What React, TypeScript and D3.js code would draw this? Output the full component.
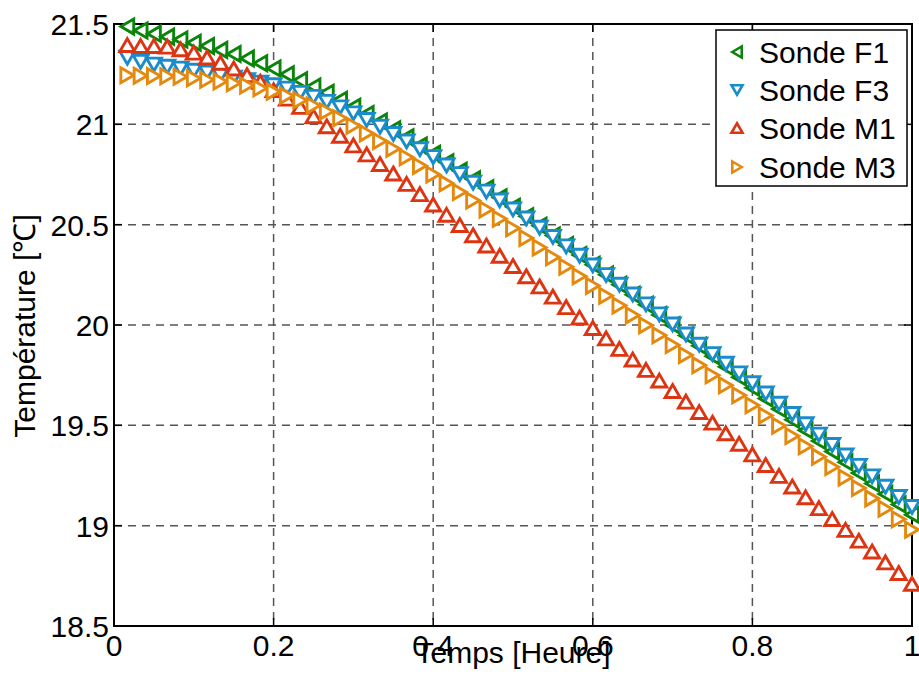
import React from "react";
import * as d3 from "d3";

const timeValues: number[] = Array.from({ length: 60 }, (_, i) => (i + 1) / 60);

const sondeF1: number[] = [
  21.487, 21.468, 21.452, 21.437, 21.423, 21.407, 21.39, 21.371, 21.351, 21.328,
  21.304, 21.278, 21.25, 21.22, 21.189, 21.157, 21.123, 21.088, 21.052, 21.014,
  20.975, 20.935, 20.894, 20.853, 20.811, 20.769, 20.726, 20.682, 20.636, 20.589,
  20.542, 20.494, 20.446, 20.398, 20.349, 20.3, 20.251, 20.201, 20.151, 20.101,
  20.05, 19.999, 19.948, 19.896, 19.844, 19.792, 19.74, 19.687, 19.634, 19.581,
  19.528, 19.475, 19.422, 19.369, 19.316, 19.263, 19.21, 19.158, 19.106, 19.055,
];

const sondeF3: number[] = [
  21.332, 21.312, 21.298, 21.287, 21.278, 21.267, 21.258, 21.245, 21.233, 21.22,
  21.208, 21.195, 21.178, 21.157, 21.137, 21.112, 21.085, 21.055, 21.022, 20.988,
  20.952, 20.915, 20.876, 20.837, 20.795, 20.752, 20.709, 20.665, 20.621, 20.576,
  20.531, 20.485, 20.439, 20.392, 20.345, 20.297, 20.249, 20.201, 20.152, 20.103,
  20.053, 20.003, 19.953, 19.902, 19.855, 19.807, 19.759, 19.71, 19.659, 19.608,
  19.557, 19.506, 19.454, 19.402, 19.35, 19.298, 19.246, 19.194, 19.143, 19.093,
];

const sondeM1: number[] = [
  21.395, 21.39, 21.39, 21.387, 21.374, 21.357, 21.333, 21.307, 21.278, 21.245,
  21.212, 21.17, 21.128, 21.087, 21.04, 20.99, 20.943, 20.895, 20.85, 20.802,
  20.755, 20.703, 20.652, 20.6, 20.549, 20.498, 20.447, 20.396, 20.345, 20.294,
  20.243, 20.192, 20.141, 20.089, 20.037, 19.985, 19.933, 19.881, 19.828, 19.776,
  19.723, 19.671, 19.618, 19.566, 19.513, 19.46, 19.408, 19.355, 19.302, 19.248,
  19.195, 19.141, 19.087, 19.033, 18.979, 18.925, 18.871, 18.817, 18.764, 18.71,
];

const sondeM3: number[] = [
  21.245, 21.242, 21.241, 21.24, 21.237, 21.23, 21.222, 21.214, 21.205, 21.194,
  21.18, 21.163, 21.143, 21.12, 21.094, 21.064, 21.03, 20.993, 20.955, 20.917,
  20.878, 20.836, 20.793, 20.75, 20.707, 20.663, 20.62, 20.576, 20.529, 20.482,
  20.434, 20.386, 20.338, 20.29, 20.243, 20.195, 20.146, 20.097, 20.048, 19.999,
  19.949, 19.9, 19.85, 19.8, 19.75, 19.7, 19.65, 19.6, 19.549, 19.498,
  19.447, 19.396, 19.344, 19.292, 19.24, 19.188, 19.136, 19.084, 19.032, 18.98,
];

const seriesNames: string[] = ["Sonde F1", "Sonde F3", "Sonde M1", "Sonde M3"];
const seriesValues: number[][] = [sondeF1, sondeF3, sondeM1, sondeM3];
const seriesColors: string[] = ["#0a840a", "#1a8ccc", "#dd3511", "#e5890e"];
const seriesMarkers: string[] = ["left", "down", "up", "right"];

const xTicks: number[] = [0, 0.2, 0.4, 0.6, 0.8, 1];
const yTicks: number[] = [18.5, 19, 19.5, 20, 20.5, 21, 21.5];

const W = 919;
const H = 695;
const M = { left: 114, right: 912, top: 24, bottom: 626 };
const FONT = "'Liberation Sans', Arial, Helvetica, sans-serif";

function trianglePath(dir: string, s: number): string {
  const a = s; // half width
  const b = s * 0.86; // half height
  let pts: [number, number][];
  if (dir === "up") pts = [[0, -b], [a, b], [-a, b]];
  else if (dir === "down") pts = [[0, b], [a, -b], [-a, -b]];
  else if (dir === "left") pts = [[-b, 0], [b, -a], [b, a]];
  else pts = [[b, 0], [-b, -a], [-b, a]];
  return "M" + pts.map((p) => p.join(",")).join("L") + "Z";
}

export default function App() {
  const x = d3.scaleLinear().domain([0, 1]).range([M.left, M.right]);
  const y = d3.scaleLinear().domain([18.5, 21.5]).range([M.bottom, M.top]);
  const tickLen = 8;

  const legX = 716;
  const legY = 30;
  const legW = 191;
  const legH = 156;
  const legRows = [52, 90, 128, 167];

  return (
    <svg
      width={W}
      height={H}
      style={{ position: "absolute", left: 0, top: 0, background: "#fff" }}
      fontFamily={FONT}
    >
      <rect x={0} y={0} width={W} height={H} fill="#fff" />
      {/* grid */}
      {xTicks.slice(1, -1).map((t) => (
        <line
          key={"gx" + t}
          x1={x(t)}
          x2={x(t)}
          y1={M.top}
          y2={M.bottom}
          stroke="#555"
          strokeWidth={1.5}
          strokeDasharray="8,6"
        />
      ))}
      {yTicks.slice(1, -1).map((t) => (
        <line
          key={"gy" + t}
          x1={M.left}
          x2={M.right}
          y1={y(t)}
          y2={y(t)}
          stroke="#555"
          strokeWidth={1.5}
          strokeDasharray="8,6"
        />
      ))}
      {/* ticks */}
      {xTicks.map((t) => (
        <g key={"tx" + t}>
          <line x1={x(t)} x2={x(t)} y1={M.bottom} y2={M.bottom - tickLen} stroke="#000" strokeWidth={1.5} />
          <line x1={x(t)} x2={x(t)} y1={M.top} y2={M.top + tickLen} stroke="#000" strokeWidth={1.5} />
          <text
            x={x(t)}
            y={M.bottom + 30}
            textAnchor="middle"
            fontSize={30}
            fill="#000"
          >
            {d3.format("~g")(t)}
          </text>
        </g>
      ))}
      {yTicks.map((t) => (
        <g key={"ty" + t}>
          <line x1={M.left} x2={M.left + tickLen} y1={y(t)} y2={y(t)} stroke="#000" strokeWidth={1.5} />
          <line x1={M.right} x2={M.right - tickLen} y1={y(t)} y2={y(t)} stroke="#000" strokeWidth={1.5} />
          <text
            x={M.left - 5}
            y={y(t) + 11}
            textAnchor="end"
            fontSize={30}
            fill="#000"
          >
            {d3.format("~g")(t)}
          </text>
        </g>
      ))}
      {/* axes box */}
      <rect
        x={M.left}
        y={M.top}
        width={M.right - M.left}
        height={M.bottom - M.top}
        fill="none"
        stroke="#000"
        strokeWidth={2}
      />
      {/* series */}
      {seriesValues.map((vals, si) => (
        <g key={"s" + si}>
          {vals.map((v, i) => (
            <path
              key={i}
              d={trianglePath(seriesMarkers[si], 7.5)}
              transform={`translate(${x(timeValues[i])},${y(v)})`}
              fill="#fff"
              stroke={seriesColors[si]}
              strokeWidth={2.9}
              strokeLinejoin="miter"
            />
          ))}
        </g>
      ))}
      {/* axis labels */}
      <text x={513} y={663} textAnchor="middle" fontSize={30} fill="#000">
        Temps [Heure]
      </text>
      <text
        transform={`translate(35,326) rotate(-90)`}
        textAnchor="middle"
        fontSize={30}
        fill="#000"
      >
        Température [℃]
      </text>
      {/* legend */}
      <rect x={legX} y={legY} width={legW} height={legH} fill="#fff" stroke="#000" strokeWidth={1.5} />
      {seriesNames.map((name, si) => (
        <g key={"l" + si}>
          <path
            d={trianglePath(seriesMarkers[si], 5.5)}
            transform={`translate(737,${legRows[si]})`}
            fill="#fff"
            stroke={seriesColors[si]}
            strokeWidth={2.6}
          />
          <text x={759} y={legRows[si] + 11} fontSize={30} fill="#000">
            {name}
          </text>
        </g>
      ))}
    </svg>
  );
}
